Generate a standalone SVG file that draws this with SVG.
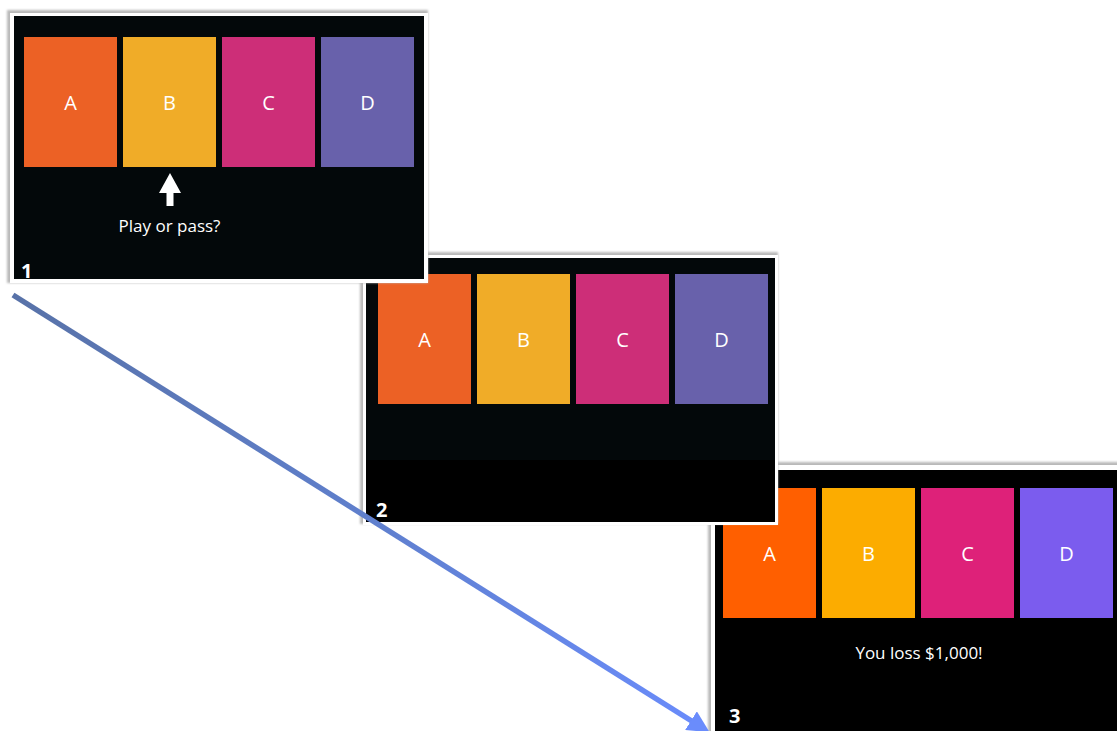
<svg xmlns="http://www.w3.org/2000/svg" width="1117" height="731" viewBox="0 0 1117 731">
<defs>
<style>
.frame{fill:#ffffff}
.shadow{fill:#b9b9b9;filter:url(#blur)}
.lbl{font-family:"Open Sans","Liberation Sans",sans-serif;font-size:20px;fill:#ffffff;text-anchor:middle}
.msg{font-family:"Open Sans","Liberation Sans",sans-serif;font-size:17px;fill:#ffffff;text-anchor:middle}
.num{font-family:"Open Sans","Liberation Sans",sans-serif;font-size:20px;font-weight:bold;fill:#ffffff}
.a1{fill:#ec6125}.b1{fill:#f0ac28}.c1{fill:#cd2e78}.d1{fill:#6861ab}
.a3{fill:#ff5f00}.b3{fill:#fcac00}.c3{fill:#de2179}.d3{fill:#7b5cee}
</style>
<filter id="blur" x="-5%" y="-5%" width="110%" height="110%"><feGaussianBlur stdDeviation="1.2"/></filter>
<linearGradient id="lineGrad" gradientUnits="userSpaceOnUse" x1="13" y1="295" x2="708" y2="731">
<stop offset="0" stop-color="#5872a8"/>
<stop offset="0.5" stop-color="#5f7fcc"/>
<stop offset="1" stop-color="#6a8cfc"/>
</linearGradient>
<marker id="arrow" markerWidth="4" markerHeight="4" refX="1.5" refY="2" orient="auto" markerUnits="strokeWidth">
<path d="M0,0 L4,2 L0,4 z" fill="#6a8cfc"/>
</marker>
</defs>
<rect x="0" y="0" width="1117" height="731" fill="#ffffff"/>

<g id="panel3">
<rect class="shadow" x="708" y="462" width="420" height="280"/>
<rect class="frame" x="711" y="465" width="420" height="280"/>
<rect x="715" y="470" width="410" height="270" fill="#000000"/>
<rect class="a3" x="723" y="488" width="93" height="130"/>
<rect class="b3" x="822" y="488" width="93" height="130"/>
<rect class="c3" x="921" y="488" width="93" height="130"/>
<rect class="d3" x="1020" y="488" width="93" height="130"/>
<text class="lbl" x="769.5" y="561">A</text>
<text class="lbl" x="868.5" y="561">B</text>
<text class="lbl" x="967.5" y="561">C</text>
<text class="lbl" x="1066.5" y="561">D</text>
<text class="msg" x="919" y="659" font-size="19.5px">You loss $1,000!</text>
<text class="num" x="729" y="723">3</text>
</g>

<g id="panel2">
<rect class="shadow" x="360" y="252" width="418" height="272"/>
<rect class="frame" x="363" y="255" width="415" height="270"/>
<rect x="366" y="258" width="409" height="264" fill="#000000"/>
<rect x="366" y="258" width="409" height="202" fill="#03080a"/>
<rect class="a1" x="378" y="274" width="93" height="130"/>
<rect class="b1" x="477" y="274" width="93" height="130"/>
<rect class="c1" x="576" y="274" width="93" height="130"/>
<rect class="d1" x="675" y="274" width="93" height="130"/>
<text class="lbl" x="424.5" y="347">A</text>
<text class="lbl" x="523.5" y="347">B</text>
<text class="lbl" x="622.5" y="347">C</text>
<text class="lbl" x="721.5" y="347">D</text>
<text class="num" x="376" y="517">2</text>
</g>

<g id="panel1">
<rect class="shadow" x="7" y="10" width="421" height="273"/>
<rect class="frame" x="10" y="13" width="418" height="270"/>
<rect x="14" y="16" width="410" height="263" fill="#03080a"/>
<rect class="a1" x="24" y="37" width="93" height="130"/>
<rect class="b1" x="123" y="37" width="93" height="130"/>
<rect class="c1" x="222" y="37" width="93" height="130"/>
<rect class="d1" x="321" y="37" width="93" height="130"/>
<text class="lbl" x="70.5" y="110">A</text>
<text class="lbl" x="169.5" y="110">B</text>
<text class="lbl" x="268.5" y="110">C</text>
<text class="lbl" x="367.5" y="110">D</text>
<path d="M170,173 L181,193 L173.5,193 L173.5,206 L166.5,206 L166.5,193 L159,193 z" fill="#ffffff"/>
<text class="msg" x="169.5" y="232">Play or pass?</text>
<text class="num" x="21" y="278">1</text>
</g>

<g id="connectors">
<line x1="13" y1="295" x2="698" y2="725" stroke="url(#lineGrad)" stroke-width="5.5" marker-end="url(#arrow)"/>
</g>
</svg>
